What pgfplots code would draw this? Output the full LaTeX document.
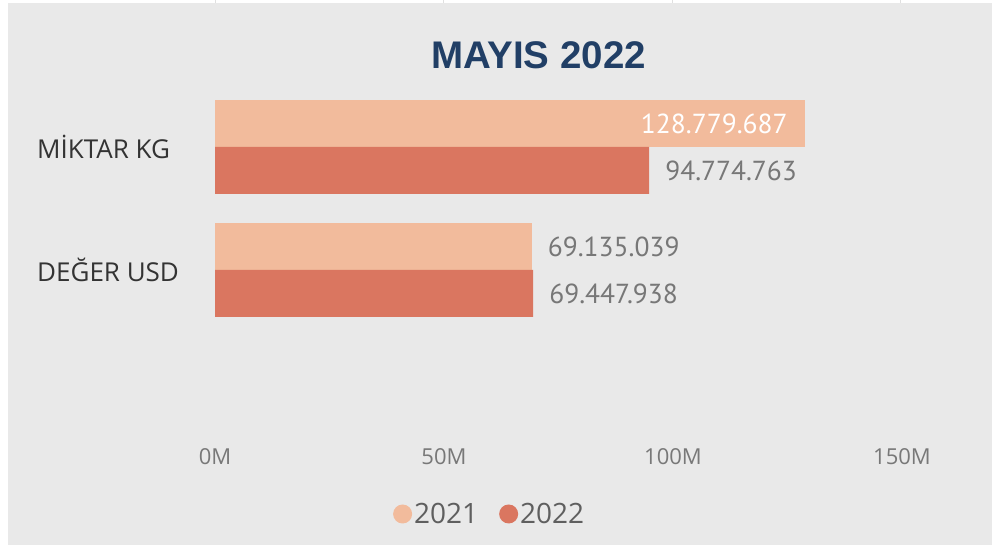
\documentclass[border=0pt]{standalone}
\usepackage{pgfplots}
\pgfplotsset{compat=1.18}
\usepackage{fontspec}
\setmainfont{Open Sans}
\newfontfamily\titlefont{Liberation Sans}
\newfontfamily\labelfont{PT Sans}
\definecolor{bg}{HTML}{E9E9E9}
\definecolor{c21}{HTML}{F2BB9C}
\definecolor{c22}{HTML}{DA7660}
\definecolor{titlec}{HTML}{213F66}
\definecolor{catc}{HTML}{333333}
\definecolor{numc}{HTML}{777777}
\definecolor{tickc}{HTML}{787878}
\definecolor{legc}{HTML}{5F5F5F}
\begin{document}
\begin{tikzpicture}
\fill[white] (0,0) rectangle (992pt,545pt);
\fill[bg] (8pt,0) rectangle (992pt,542pt);
\foreach \x in {215,443,672,900} \draw[black!12, line width=1pt] (\x pt,542pt) -- (\x pt,545pt);
\node[font=\titlefont\bfseries\fontsize{38.5}{42}\selectfont, text=titlec, anchor=base] at (538.5pt,476pt) {MAYIS 2022};
\begin{axis}[
  at={(215pt,459.5pt)}, anchor=north west,
  scale only axis, width=687pt, height=350.5pt,
  xmin=0, xmax=150e6, ymin=-1.35, ymax=1.5,
  xbar, bar width=47pt,
  axis line style={draw=none}, major tick length=0pt,
  xtick={0,50000000,100000000,150000000}, xticklabels={0M,50M,100M,150M},
  scaled x ticks=false,
  ytick={0,1}, yticklabels={DEĞER USD, MİKTAR KG},
  xticklabel style={font=\fontsize{22}{26}\selectfont, text=tickc, anchor=north, inner sep=0pt, yshift=-12pt},
  yticklabel style={font=\fontsize{26}{30}\selectfont, text=catc, anchor=west, inner sep=0pt, xshift=-178pt},
  point meta=explicit symbolic,
  nodes near coords,
  every node near coord/.append style={font=\labelfont\fontsize{27.5}{32}\selectfont, text=numc, anchor=west, inner sep=0pt, xshift=16pt},
  legend columns=-1,
  legend style={at={(0.259,-0.2225)}, anchor=west, draw=none, fill=none, inner sep=0pt, font=\fontsize{28}{32}\selectfont, text=legc, /tikz/every even column/.append style={column sep=19pt}},
]
\addplot[draw=none, fill=c21, bar shift=23.5pt, legend image code/.code={\fill[c21] (9.5pt,0pt) circle[radius=9.5pt];}] coordinates {(69135039,0) [69.135.039]};
\addlegendentry{2021}
\addplot[draw=none, fill=c21, bar shift=23.5pt, forget plot, every node near coord/.append style={text=white, anchor=east, xshift=-33pt}] coordinates {(128779687,1) [128.779.687]};
\addplot[draw=none, fill=c22, bar shift=-23.5pt, legend image code/.code={\fill[c22] (9.5pt,0pt) circle[radius=9.5pt];}] coordinates {(69447938,0) [69.447.938] (94774763,1) [94.774.763]};
\addlegendentry{2022}
\end{axis}
\pgfresetboundingbox
\useasboundingbox (0,0) rectangle (992pt,545pt);
\end{tikzpicture}
\end{document}
